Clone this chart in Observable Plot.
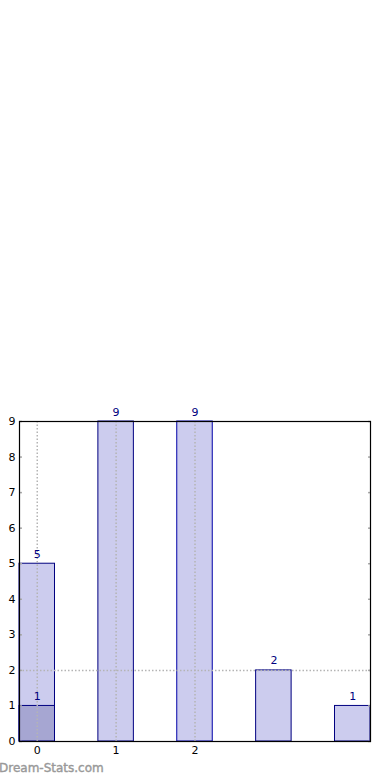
<!DOCTYPE html>
<html>
<head>
<meta charset="utf-8">
<script src="https://cdn.jsdelivr.net/npm/d3@7"></script>
<script src="https://cdn.jsdelivr.net/npm/@observablehq/plot@0.6"></script>
<style>
  html, body { margin: 0; padding: 0; background: #fff; }
  #wrap { position: relative; width: 390px; height: 780px; overflow: hidden; }
  #wm { position: absolute; left: -1px; top: 761px; font-family: "DejaVu Sans", sans-serif; font-size: 12px; color: #999; white-space: nowrap; -webkit-text-stroke: 0.4px #999; }
</style>
</head>
<body>
<div id="wrap"><div id="chart"></div><div id="wm">Dream-Stats.com</div></div>
<script>
const positions = [0, 1, 2, 3, 4];
const values = [5, 9, 9, 2, 1];
const strokes = ["#000080", "#000080", "#0000a8", "#000080", "#000080"];
const overlayPositions = [0];
const overlayValues = [1];
const xTickValues = [0, 1, 2];
const yTickValues = [0, 1, 2, 3, 4, 5, 6, 7, 8, 9];
const hGrid = [2];
const halfWidth = 0.225;

const bars = positions.map((p, i) => ({p, v: values[i], s: strokes[i]}));
const overlay = overlayPositions.map((p, i) => ({p, v: overlayValues[i]}));

const font = "DejaVu Sans, sans-serif";

const chart = Plot.plot({
  width: 390,
  height: 780,
  marginTop: 421,
  marginBottom: 39,
  marginLeft: 19,
  marginRight: 20,
  style: {fontFamily: font, fontSize: "11px", background: "white"},
  x: {domain: [positions[0] - halfWidth, positions[positions.length - 1] + halfWidth], label: null},
  y: {domain: [0, 9], label: null},
  marks: [
    Plot.rectY(bars, {x1: d => d.p - halfWidth, x2: d => d.p + halfWidth, y1: 0, y2: "v", fill: "#ccccee", stroke: "s", strokeWidth: 1}),
    Plot.rectY(overlay, {x1: d => d.p - halfWidth, x2: d => d.p + halfWidth, y1: 0, y2: "v", fill: "#a6a6d2", stroke: "#000080", strokeWidth: 1}),
    Plot.ruleX(xTickValues, {stroke: "#b4b4b4", strokeDasharray: "1.5,2", strokeWidth: 1.5}),
    Plot.ruleY(hGrid, {stroke: "#b4b4b4", strokeDasharray: "1.5,2", strokeWidth: 1.5}),
    Plot.text(bars, {x: "p", y: "v", text: d => String(d.v), fill: "#000080", lineAnchor: "bottom", dy: -6, fontSize: 11}),
    Plot.text(overlay, {x: "p", y: "v", text: d => String(d.v), fill: "#000080", lineAnchor: "bottom", dy: -6, fontSize: 11}),
    Plot.axisY({ticks: yTickValues, tickSize: 0, tickPadding: 4, tickFormat: d => String(d), fill: "#000", fontSize: 11, label: null}),
    Plot.axisY({ticks: yTickValues, anchor: "left", tickSize: -3, text: null, stroke: "#aaaaaa", strokeWidth: 1.5, label: null}),
    Plot.axisY({ticks: yTickValues, anchor: "right", tickSize: -3, text: null, stroke: "#aaaaaa", strokeWidth: 1.5, label: null}),
    Plot.axisX({ticks: xTickValues, tickSize: 0, tickPadding: 5, tickFormat: d => String(d), fill: "#000", fontSize: 11, label: null}),
    Plot.frame({stroke: "#000", strokeWidth: 1.2})
  ]
});
document.getElementById("chart").appendChild(chart);
</script>
</body>
</html>
